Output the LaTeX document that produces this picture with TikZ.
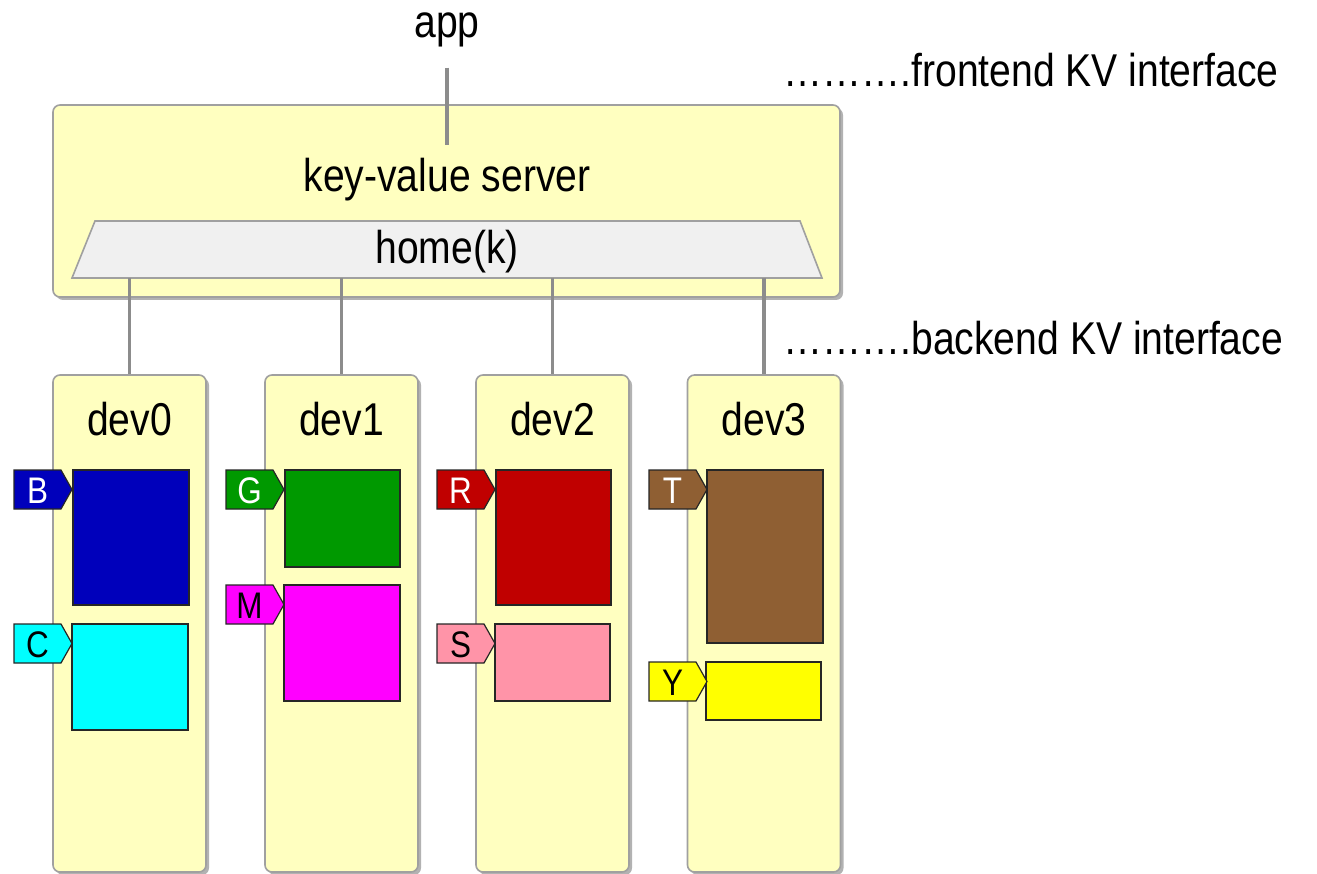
\documentclass[tikz,border=0pt]{standalone}
\usepackage{fontspec}
\setmainfont{Liberation Sans}[FakeStretch=0.85]
\usetikzlibrary{shadows}
\definecolor{panelfill}{HTML}{FFFFC0}
\definecolor{panelline}{HTML}{A0A0A0}
\definecolor{wirecol}{HTML}{8C8C8C}
\definecolor{mapfill}{HTML}{F0F0F0}
\definecolor{kBlue}{HTML}{0000BB}
\definecolor{kCyan}{HTML}{00FFFF}
\definecolor{kGreen}{HTML}{009900}
\definecolor{kMagenta}{HTML}{FF00FF}
\definecolor{kRed}{HTML}{C00000}
\definecolor{kPink}{HTML}{FF94A8}
\definecolor{kBrown}{HTML}{8F5F33}
\definecolor{kYellow}{HTML}{FFFF00}

% a key tag: name, left x, top y, fill, text colour, letter
\newcommand\kvtag[6]{%
  \draw[tagline, fill=#4] (#2,#3) -- ++(47,0) -- ++(11,19.5) -- ++(-11,19.5) -- ++(-47,0) -- cycle;
  \node[tagtext, text=#5] (#1) at (#2+23.5,#3+33) {#6};}

\begin{document}
\begin{tikzpicture}[x=1pt,y=-1pt,
  panel/.style={draw=panelline, line width=1.6pt, fill=panelfill, rounded corners=7pt,
    drop shadow={shadow xshift=3pt, shadow yshift=-3pt, opacity=0.3, fill=black}},
  wire/.style={draw=wirecol, line width=3.2pt},
  label/.style={font=\fontsize{46}{50}\selectfont, inner sep=0pt, anchor=base},
  block/.style={draw=black!85, line width=1.4pt, inner sep=0pt},
  tagline/.style={draw=black!85, line width=1.2pt},
  tagtext/.style={font=\fontsize{37}{40}\selectfont, inner sep=0pt, anchor=base},
]
\useasboundingbox (0,0) rectangle (1317,874);

% server
\node[panel, minimum width=787pt, minimum height=192pt] (server) at (446.5,201) {};
\node[label] (app) at (447,38) {app};
\node[label] (kvs) at (447,192) {key-value server};
\draw[wire, shorten <=20pt, shorten >=13pt] (app.south) -- (kvs.north);

% home(k) mapping
\draw[draw=panelline, line width=1.6pt, fill=mapfill] (95,221) -- (800,221) -- (822,278) -- (72,278) -- cycle;
\node[label] (home) at (447,264) {home(k)};
\coordinate (hb) at (447,278);

% interface annotations
\node[label, anchor=base west] (fe) at (783,87) {……….frontend KV interface};
\node[label, anchor=base west] (be) at (783,355) {……….backend KV interface};

% devices
\foreach \i/\cx in {0/129.5, 1/341.5, 2/552.5, 3/764} {
  \node[panel, minimum width=153pt, minimum height=497pt] (dev\i) at (\cx,623.5) {};
  \node[label] (devlab\i) at (\cx,435) {dev\i};
  \draw[wire] (dev\i.north |- hb) -- (dev\i.north);
}

% stored values
\node[block, fill=kBlue,    minimum width=116pt, minimum height=135pt] (vB) at (131,537.5) {};
\node[block, fill=kCyan,    minimum width=116pt, minimum height=106pt] (vC) at (130,677) {};
\node[block, fill=kGreen,   minimum width=115pt, minimum height=97pt]  (vG) at (342.5,518.5) {};
\node[block, fill=kMagenta, minimum width=116pt, minimum height=116pt] (vM) at (342,643) {};
\node[block, fill=kRed,     minimum width=115pt, minimum height=135pt] (vR) at (553.5,537.5) {};
\node[block, fill=kPink,    minimum width=115pt, minimum height=77pt]  (vS) at (552.5,662.5) {};
\node[block, fill=kBrown,   minimum width=116pt, minimum height=173pt] (vT) at (765,556.5) {};
\node[block, fill=kYellow,  minimum width=115pt, minimum height=58pt]  (vY) at (763.5,691) {};

% keys
\kvtag{kB}{14}{470}{kBlue}{white}{B}
\kvtag{kC}{14}{624}{kCyan}{black}{C}
\kvtag{kG}{226}{470}{kGreen}{white}{G}
\kvtag{kM}{226}{585}{kMagenta}{black}{M}
\kvtag{kR}{437}{470}{kRed}{white}{R}
\kvtag{kS}{437}{624}{kPink}{black}{S}
\kvtag{kT}{649}{470}{kBrown}{white}{T}
\kvtag{kY}{649}{662}{kYellow}{black}{Y}
\end{tikzpicture}
\end{document}
